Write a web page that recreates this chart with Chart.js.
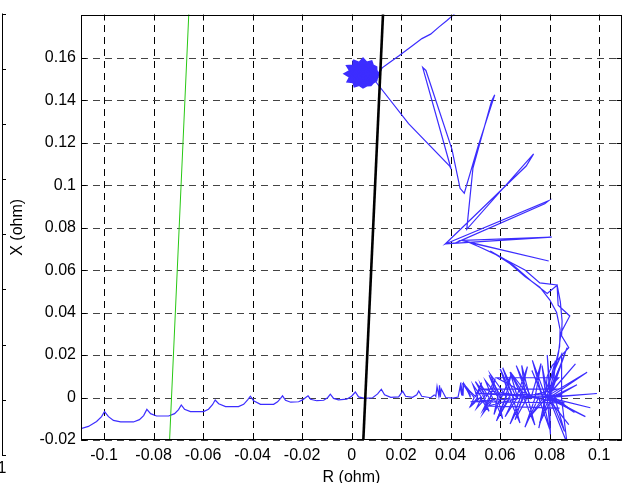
<!DOCTYPE html>
<html>
<head>
<meta charset="utf-8">
<script src="https://cdn.jsdelivr.net/npm/chart.js@4.4.1/dist/chart.umd.min.js"></script>
<style>
html, body { margin:0; padding:0; background:#fff; }
</style>
</head>
<body>
<canvas id="g_rx" width="626" height="483"></canvas>
<script>
// tick labels
var xTicks = [-0.1, -0.08, -0.06, -0.04, -0.02, 0, 0.02, 0.04, 0.06, 0.08, 0.1];
var yTicks = [-0.02, 0, 0.02, 0.04, 0.06, 0.08, 0.1, 0.12, 0.14, 0.16];

// zone lines [R, X]
var blackLine = [[0.00433, -0.03], [0.01305, 0.19]];
var greenLine = [[-0.0739, -0.03], [-0.0654, 0.19]];

// impedance trajectory, piece by piece [R, X]
var approach = [[0.0425,0.1815],[0.0412,0.1803],[0.0385,0.1775],[0.0352,0.1744],[0.0319,0.1711],[0.0284,0.1690],
  [0.0244,0.1655],[0.0190,0.1608],[0.0149,0.1574],[0.0122,0.1551]];

var spiral = [[0.0122,0.1551],[0.0106,0.1524],
  [0.0102,0.1539],[0.0101,0.1556],[0.0087,0.1565],[0.0081,0.1585],[0.0061,0.1578],[0.0046,0.1598],[0.0031,0.1578],[0.0009,0.1588],
  [0.0006,0.1564],[-0.0020,0.1562],[-0.0008,0.1539],[-0.0030,0.1524],[-0.0008,0.1509],[-0.0018,0.1487],[0.0006,0.1484],[0.0011,0.1463],
  [0.0031,0.1470],[0.0046,0.1458],[0.0061,0.1468],[0.0078,0.1469],[0.0088,0.1482],[0.0101,0.1492],[0.0104,0.1508],[0.0106,0.1524],
  [0.0082,0.1545],[0.0071,0.1567],[0.0046,0.1566],[0.0021,0.1567],[0.0010,0.1545],[-0.0006,0.1524],[0.0010,0.1503],[0.0021,0.1481],
  [0.0046,0.1482],[0.0070,0.1482],[0.0084,0.1502],[0.0088,0.1524],
  [0.0075,0.1541],[0.0065,0.1557],[0.0046,0.1556],[0.0027,0.1557],[0.0018,0.1540],[0.0008,0.1524],[0.0018,0.1508],[0.0028,0.1493],
  [0.0046,0.1492],[0.0063,0.1495],[0.0074,0.1508],[0.0076,0.1524],
  [0.0062,0.1540],[0.0046,0.1546],[0.0030,0.1540],[0.0024,0.1524],[0.0030,0.1508],[0.0046,0.1502],[0.0062,0.1508],[0.0068,0.1524],
  [0.0046,0.1536],[0.0034,0.1524],[0.0046,0.1512],[0.0058,0.1524],
  [0.0096,0.1489]];

var petals = [[0.0096,0.1489],[0.0230,0.1290],[0.0396,0.1090],[0.0402,0.1075],
  [0.0287,0.1554],[0.0300,0.1540],[0.0405,0.1170],[0.0438,0.0985],[0.0455,0.0962],
  [0.0510,0.1180],[0.0578,0.1425],[0.0565,0.1395],[0.0490,0.1080],[0.0465,0.0792],
  [0.0735,0.1147],[0.0705,0.1090],[0.0378,0.0723],
  [0.0796,0.0927],[0.0780,0.0912],[0.0420,0.0728],[0.0378,0.0723],
  [0.0808,0.0755],[0.0445,0.0740],[0.0796,0.0643],[0.0470,0.0732]];

var arc = [[0.0470,0.0732],[0.0517,0.0709],[0.0594,0.0667],[0.0655,0.0620],[0.0723,0.0551],[0.0790,0.0490],[0.0830,0.0529],
  [0.0834,0.0435],[0.0881,0.0384],[0.0846,0.0306],[0.0840,0.0255],[0.0836,0.0212],[0.0824,0.0143],[0.0808,0.0073],[0.0796,0.0003],
  [0.0822,0.0150],[0.0840,0.0240],[0.0842,0.0320],[0.0828,0.0400],[0.0800,0.0460],[0.0760,0.0520],[0.0700,0.0570],[0.0640,0.0630],[0.0560,0.0690],
  [0.0620,0.0650],[0.0700,0.0600],[0.0760,0.0540],[0.0830,0.0530],[0.0843,0.0450],[0.0850,0.0360],[0.0848,0.0290],[0.0877,0.0235],
  [0.0810,0.0150],[0.0790,0.0100],[0.0785,0.0040],[0.0848,0.0203],[0.0848,-0.0006]];

var burst = [[0.0848,-0.0006],[0.0870,-0.0215],[0.0800,-0.0010],[0.0803,-0.0175],[0.0790,0.0000],[0.0877,-0.0128],[0.0795,-0.0005],
  [0.0944,-0.0090],[0.0800,-0.0002],[0.0964,-0.0048],[0.0790,0.0002],[0.0991,0.0019],[0.0800,0.0000],[0.0951,0.0119],[0.0795,0.0010],
  [0.0904,0.0158],[0.0800,0.0020],[0.0870,0.0235],[0.0815,0.0050],[0.0823,0.0174],[0.0790,0.0030],[0.0769,0.0150],[0.0785,0.0000],
  [0.0756,-0.0144],[0.0780,-0.0010],[0.0715,-0.0097],[0.0775,0.0000],[0.0728,0.0127],[0.0770,0.0010],[0.0836,0.0093],[0.0586,0.0093],[0.0700,0.0020],
  [0.0687,0.0151],[0.0720,0.0000],[0.0642,0.0119],[0.0705,-0.0010],[0.0660,-0.0105],[0.0690,0.0000],[0.0640,0.0120],[0.0670,0.0000],
  [0.0620,-0.0090],[0.0655,-0.0005],[0.0600,0.0135],[0.0640,0.0000],[0.0590,-0.0098],[0.0625,0.0005],[0.0560,0.0110],[0.0600,-0.0005],
  [0.0575,-0.0080],[0.0590,0.0005],[0.0540,0.0080],[0.0570,-0.0005],[0.0530,-0.0060],[0.0555,0.0000],[0.0520,0.0065],[0.0540,-0.0005],
  [0.0505,-0.0050],[0.0525,0.0000],[0.0490,0.0060],[0.0510,-0.0005],[0.0480,-0.0040],[0.0495,0.0000],[0.0470,0.0040],[0.0480,0.0000],
  [0.0462,0.0050],[0.0452,0.0068],[0.0450,0.0008],[0.0440,0.0070],[0.0445,0.0010],[0.0438,0.0050],[0.0430,0.0002],[0.0410,-0.0003],[0.0380,0.0000],
  [0.0362,0.0040],[0.0358,0.0002],[0.0355,0.0058],[0.0352,0.0008],[0.0345,0.0052],[0.0340,0.0005],[0.0335,0.0013]];

// second pass through the cluster, diagonal spikes
var burst2 = [[0.0480,0.0010],[0.0455,0.0055],[0.0500,0.0005],[0.0525,0.0070],[0.0505,-0.0005],[0.0478,-0.0045],[0.0520,0.0000],
  [0.0555,-0.0065],[0.0530,0.0010],[0.0500,0.0075],[0.0545,0.0005],[0.0580,0.0090],[0.0560,0.0000],[0.0530,-0.0075],[0.0575,-0.0005],
  [0.0610,-0.0100],[0.0590,0.0005],[0.0555,0.0105],[0.0605,0.0000],[0.0645,0.0110],[0.0620,-0.0005],[0.0585,-0.0110],[0.0635,0.0000],
  [0.0680,-0.0120],[0.0650,0.0005],[0.0610,0.0140],[0.0665,0.0000],[0.0710,0.0145],[0.0680,-0.0005],[0.0640,-0.0125],[0.0695,0.0000],
  [0.0740,-0.0130],[0.0710,0.0005],[0.0665,0.0150],[0.0725,0.0000],[0.0765,0.0160],[0.0740,-0.0005],[0.0700,-0.0140],[0.0755,0.0000],
  [0.0800,-0.0150],[0.0770,0.0005],[0.0730,0.0175],[0.0785,0.0000],[0.0840,0.0140],[0.0795,-0.0005],[0.0760,-0.0120],[0.0810,0.0000],
  [0.0900,-0.0070],[0.0815,0.0005],[0.0910,0.0060],[0.0820,0.0000],[0.0860,-0.0160],[0.0800,0.0010],[0.0790,0.0200],[0.0805,0.0000],
  [0.0500,0.0020],[0.0850,0.0010],[0.0480,-0.0020],[0.0860,-0.0025],[0.0520,0.0040],[0.0830,0.0040],[0.0550,-0.0040],[0.0840,-0.0050]];

// left to right
var scallops = [[-0.1111,-0.0152],[-0.1063,-0.0136],[-0.1030,-0.0113],[-0.1010,-0.0090],[-0.0998,-0.0066],
  [-0.0982,-0.0090],[-0.0962,-0.0108],[-0.0933,-0.0115],[-0.0881,-0.0115],[-0.0857,-0.0104],[-0.0840,-0.0085],[-0.0827,-0.0056],
  [-0.0812,-0.0076],[-0.0788,-0.0087],[-0.0739,-0.0087],[-0.0715,-0.0076],[-0.0699,-0.0057],[-0.0688,-0.0035],
  [-0.0675,-0.0055],[-0.0651,-0.0066],[-0.0598,-0.0066],[-0.0578,-0.0055],[-0.0562,-0.0034],[-0.0551,-0.0012],
  [-0.0537,-0.0029],[-0.0509,-0.0043],[-0.0457,-0.0043],[-0.0436,-0.0032],[-0.0420,-0.0011],[-0.0409,0.0006],
  [-0.0396,-0.0015],[-0.0368,-0.0032],[-0.0315,-0.0032],[-0.0299,-0.0020],[-0.0287,-0.0004],[-0.0279,0.0008],
  [-0.0267,-0.0013],[-0.0246,-0.0022],[-0.0214,-0.0020],[-0.0198,-0.0011],[-0.0184,0.0001],[-0.0176,0.0008],
  [-0.0166,-0.0008],[-0.0141,-0.0015],[-0.0113,-0.0013],[-0.0097,-0.0001],[-0.0086,0.0016],
  [-0.0073,-0.0004],[-0.0053,-0.0011],[-0.0020,-0.0008],[0.0000,0.0006],[0.0015,0.0026],
  [0.0028,0.0003],[0.0053,-0.0004],[0.0085,-0.0001],[0.0105,0.0017],[0.0120,0.0039],
  [0.0133,0.0013],[0.0158,0.0001],[0.0190,0.0003],[0.0206,0.0030],
  [0.0218,0.0006],[0.0246,0.0001],[0.0263,0.0013],[0.0271,0.0031],
  [0.0283,0.0006],[0.0319,-0.0001],[0.0335,0.0013]];

var FONT = 'Arial, "Liberation Sans", Helvetica, sans-serif';
var BLUE = 'rgb(60,45,255)';

function pts(arr) {
  return arr.map(function(p){ return {x: p[0], y: p[1]}; });
}

function serie(arr, color, width) {
  return {
    data: pts(arr),
    showLine: true,
    borderColor: color,
    borderWidth: width,
    pointRadius: 0,
    tension: 0,
    fill: false
  };
}

// grid, box, inward ticks and the cut off neighbour axis
var rxFrame = {
  id: 'rxFrame',
  beforeDatasetsDraw: function(chart) {
    var ctx = chart.ctx, a = chart.chartArea;
    var sx = chart.scales.x, sy = chart.scales.y;
    ctx.save();
    ctx.lineWidth = 1;
    ctx.setLineDash([7, 5]);
    ctx.strokeStyle = '#000';
    xTicks.forEach(function(v){
      var px = Math.round(sx.getPixelForValue(v)) + 0.5;
      ctx.beginPath(); ctx.moveTo(px, a.bottom); ctx.lineTo(px, a.top); ctx.stroke();
    });
    ctx.strokeStyle = '#444';
    yTicks.forEach(function(v){
      var py = Math.round(sy.getPixelForValue(v)) + 0.5;
      ctx.beginPath(); ctx.moveTo(a.left, py); ctx.lineTo(a.right, py); ctx.stroke();
    });
    ctx.restore();
  },
  afterDatasetsDraw: function(chart) {
    var ctx = chart.ctx, a = chart.chartArea;
    var sx = chart.scales.x, sy = chart.scales.y;
    var L = Math.round(a.left) + 0.5, R = Math.round(a.right) - 0.5;
    var T = Math.round(a.top) + 0.5, B = Math.round(a.bottom) - 0.5;
    ctx.save();
    ctx.strokeStyle = '#000';
    ctx.lineWidth = 1;
    ctx.strokeRect(L, T, R - L, B - T);
    ctx.beginPath();
    xTicks.forEach(function(v){
      var px = Math.round(sx.getPixelForValue(v)) + 0.5;
      ctx.moveTo(px, B); ctx.lineTo(px, B - 5);
      ctx.moveTo(px, T); ctx.lineTo(px, T + 5);
    });
    yTicks.forEach(function(v){
      var py = Math.round(sy.getPixelForValue(v)) + 0.5;
      ctx.moveTo(L, py); ctx.lineTo(L + 5, py);
      ctx.moveTo(R, py); ctx.lineTo(R - 5, py);
    });
    ctx.stroke();

    // edge of the neighbouring subplot
    var top = 13.5, bot = 455;
    ctx.beginPath();
    ctx.moveTo(2.5, top); ctx.lineTo(2.5, bot);
    for (var i = 0; i <= 8; i++) {
      var y = Math.round(top + (bot - top) * i / 8) + 0.5;
      ctx.moveTo(2, y); ctx.lineTo(6, y);
    }
    ctx.stroke();
    ctx.fillStyle = '#000';
    ctx.font = '16px ' + FONT;
    ctx.textAlign = 'center';
    ctx.textBaseline = 'alphabetic';
    ctx.fillText('1', 2, 473);
    ctx.restore();
  }
};

var ctx = document.getElementById('g_rx');

var spiralSet = serie(spiral, BLUE, 1.6);
spiralSet.fill = 'shape';
spiralSet.backgroundColor = BLUE;

var rxChart = new Chart(ctx, {
  type: 'scatter',
  data: {
    datasets: [
      serie(blackLine, '#000', 2.6),
      serie(greenLine, 'rgb(40,200,20)', 1),
      serie([].concat(approach, petals, arc, burst), BLUE, 1.2),
      serie(burst2, BLUE, 1.2),
      spiralSet,
      serie(scallops, BLUE, 1.2)
    ]
  },
  options: {
    responsive: false,
    animation: false,
    layout: { padding: { left: 0, top: 7, right: 4, bottom: 0 } },
    plugins: {
      legend: { display: false },
      tooltip: { enabled: false }
    },
    scales: {
      x: {
        type: 'linear',
        min: -0.1093,
        max: 0.1092,
        grid: { display: false, drawTicks: false },
        border: { display: false },
        afterBuildTicks: function(s){ s.ticks = xTicks.map(function(v){ return {value: v}; }); },
        afterFit: function(s){ s.height = 43; },
        ticks: {
          color: '#000',
          font: { family: FONT, size: 16 },
          padding: 6,
          autoSkip: false,
          maxRotation: 0,
          callback: function(v){ return String(v); }
        },
        title: {
          display: true,
          text: 'R (ohm)',
          color: '#000',
          font: { family: FONT, size: 16 },
          padding: { top: 0, bottom: -4 }
        }
      },
      y: {
        type: 'linear',
        min: -0.02,
        max: 0.1803,
        grid: { display: false, drawTicks: false },
        border: { display: false },
        afterBuildTicks: function(s){ s.ticks = yTicks.map(function(v){ return {value: v}; }); },
        afterFit: function(s){ s.width = 81; },
        ticks: {
          color: '#000',
          font: { family: FONT, size: 16 },
          padding: 5,
          autoSkip: false,
          callback: function(v){ return String(v); }
        },
        title: {
          display: true,
          text: 'X (ohm)',
          color: '#000',
          font: { family: FONT, size: 16 },
          padding: { top: 8, bottom: 0 }
        }
      }
    }
  },
  plugins: [rxFrame]
});
</script>
</body>
</html>
